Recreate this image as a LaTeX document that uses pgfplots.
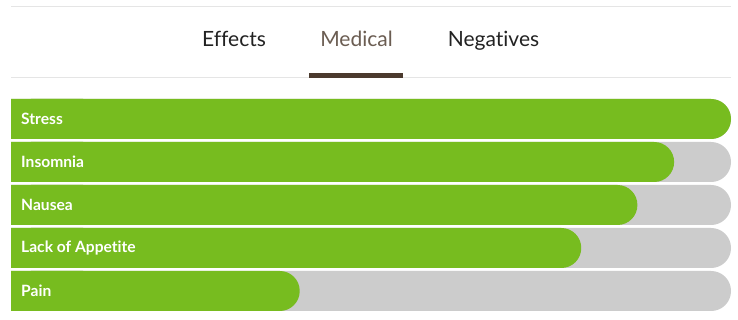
\documentclass[border=0pt]{standalone}
\usepackage{pgfplots}
\pgfplotsset{compat=1.18}
\usepackage{fontspec}
\setmainfont{Lato}[Ligatures={NoCommon}]
\definecolor{barGreen}{HTML}{77BC1F}
\definecolor{barGray}{HTML}{CCCCCC}
\definecolor{lineGray}{HTML}{E5E5E5}
\definecolor{medText}{HTML}{6B5D52}
\definecolor{tabLine}{HTML}{4B3A2E}
\definecolor{tabText}{HTML}{222222}
\begin{document}
\begin{tikzpicture}[x=1pt,y=1pt]
\fill[white] (0,0) rectangle (738,320);
% separator lines
\fill[lineGray] (11,313) rectangle (731,314.2);
\fill[lineGray] (11,241.5) rectangle (731,242.7);
% tabs
\node[font=\fontsize{21}{25}\selectfont, text=tabText, anchor=base] at (234,273) {Effects};
\node[font=\fontsize{21}{25}\selectfont, text=medText, anchor=base] at (356.5,273) {Medical};
\node[font=\fontsize{21}{25}\selectfont, text=tabText, anchor=base] at (493.5,273) {Negatives};
\fill[tabLine] (309,242.3) rectangle (403,247);
\begin{axis}[
  at={(11pt,7.5pt)}, anchor=south west,
  scale only axis, width=720pt, height=215pt,
  xmin=0, xmax=100, ymin=-0.5, ymax=4.5,
  y dir=reverse, hide axis, clip=false,
  xbar, bar width=40pt,
]
% gray track (rounded right end)
\addplot[draw=none, fill=barGray, rounded corners=19.9pt, bar shift=0pt]
  coordinates {(100,0) (100,1) (100,2) (100,3) (100,4)};
\addplot[draw=none, fill=barGray, bar shift=0pt]
  coordinates {(10,0) (10,1) (10,2) (10,3) (10,4)};
% green values
\addplot[draw=none, fill=barGreen, rounded corners=19.9pt, bar shift=0pt]
  coordinates {(100,0) (92.1,1) (87,2) (79.2,3) (40.1,4)};
\addplot[draw=none, fill=barGreen, bar shift=0pt]
  coordinates {(10,0) (10,1) (10,2) (10,3) (10,4)};
\foreach \lab [count=\i from 0] in {Stress,Insomnia,Nausea,Lack of Appetite,Pain} {
  \edef\tmp{\noexpand\node[anchor=west, text=white, font=\noexpand\fontsize{15.6}{18}\noexpand\selectfont\noexpand\bfseries, inner sep=0pt] at (axis cs:0,\i) [xshift=10pt] {\lab};}
  \tmp
}
\end{axis}
\end{tikzpicture}
\end{document}
